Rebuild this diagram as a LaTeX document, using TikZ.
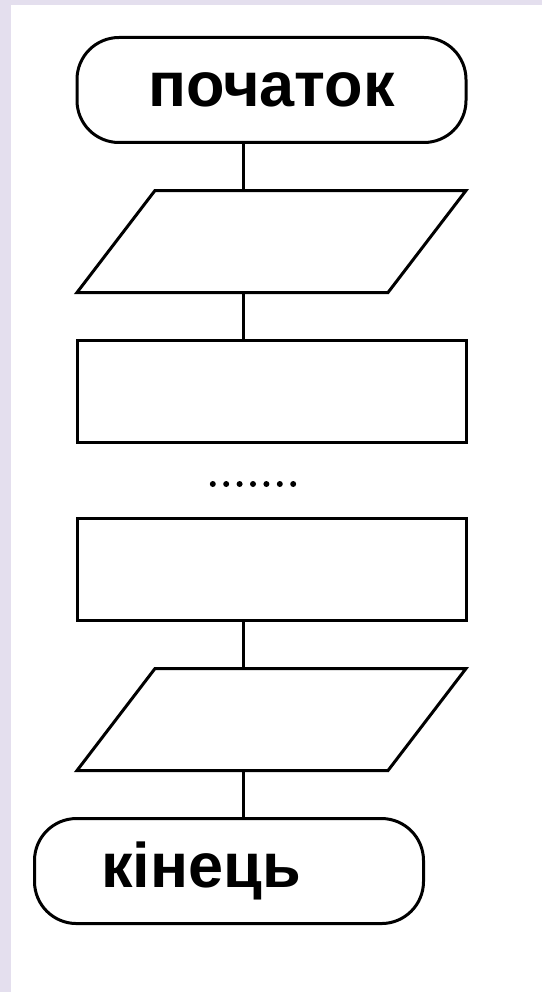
\documentclass[tikz,border=0pt]{standalone}
\usepackage{fontspec}
\setmainfont{Liberation Sans}
\usetikzlibrary{positioning,shapes.geometric}
\definecolor{lila}{RGB}{228,223,238}
\tikzset{
  contur/.style  = {draw, line width=3pt, fill=white, inner sep=2pt},
  capat/.style   = {contur, rounded corners=42pt, minimum width=389pt,
                    minimum height=105pt, font=\fontsize{63}{63}\selectfont\bfseries},
  bloc/.style    = {contur, minimum width=389pt, minimum height=102pt},
  intrare/.style = {contur, trapezium, trapezium left angle=52.6,
                    trapezium right angle=127.4, trapezium stretches body,
                    inner ysep=51pt, minimum width=389pt},
  linie/.style   = {line width=3pt},
  punct/.style   = {fill=black}
}
\begin{document}
\begin{tikzpicture}[x=1pt, y=-1pt, node distance=45pt]
        % fundal
        \fill[lila] (0,0) rectangle (542,992);
        \fill[white] (11,5) rectangle (542,992);
        \useasboundingbox (0,0) rectangle (542,992);

        \coordinate (stalp) at (243,0);

        \node[capat] (start) at (271.5,90) {початок};
        \node[intrare, below=of start] (citire) {};
        \node[bloc, below=of citire] (pas1) {};
        \node[bloc, below=73pt of pas1] (pas2) {};
        \node[intrare, below=of pas2] (scriere) {};
        \node[capat, below=of scriere, xshift=-42.5pt] (sfarsit)
            {кінець\hspace*{56pt}};

        \coordinate (puncte) at (253,484);
        \foreach \k in {-3,...,3}
            \fill[punct] ([xshift=\k*13.4pt]puncte) circle (3pt);

        \draw[linie] (start.south -| stalp) -- (citire.north -| stalp);
        \draw[linie] (citire.south -| stalp) -- (pas1.north -| stalp);
        \draw[linie] (pas2.south -| stalp) -- (scriere.north -| stalp);
        \draw[linie] (scriere.south -| stalp) -- (sfarsit.north -| stalp);
    \end{tikzpicture}
\end{document}
